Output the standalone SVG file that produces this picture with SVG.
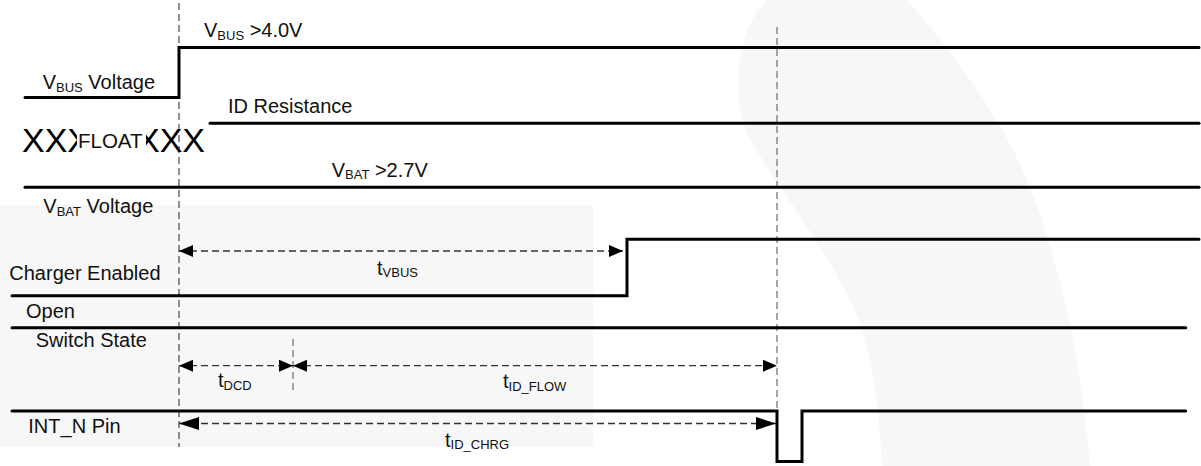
<svg xmlns="http://www.w3.org/2000/svg" width="1201" height="466" viewBox="0 0 1201 466">
  <style>
    .sig { fill: none; stroke: #000; stroke-width: 3; stroke-linecap: round; stroke-linejoin: miter; }
    .guide { fill: none; stroke: #555; stroke-width: 1.3; stroke-dasharray: 7 4; }
    .guide2 { fill: none; stroke: #777; stroke-width: 1.3; stroke-dasharray: 7 4; }
    .dim { fill: none; stroke: #333; stroke-width: 1.3; stroke-dasharray: 7 4; }
    text { font-family: "Liberation Sans", Arial, sans-serif; font-size: 20px; fill: #111; }
    .sub { font-size: 13px; }
    .xx { font-size: 34px; fill: #000; }
  </style>
  <defs>
    <marker id="arr" markerUnits="userSpaceOnUse" markerWidth="16" markerHeight="14" refX="14" refY="6" orient="auto-start-reverse">
      <path d="M0,0 L14,6 L0,12 Z" fill="#000"/>
    </marker>
    <marker id="arrL" markerUnits="userSpaceOnUse" markerWidth="22" markerHeight="14" refX="20" refY="6.5" orient="auto-start-reverse">
      <path d="M0,0 L20,6.5 L0,13 Z" fill="#000"/>
    </marker>
    <clipPath id="clipL"><rect x="0" y="120" width="77" height="40"/></clipPath>
    <clipPath id="clipR"><rect x="146" y="120" width="70" height="40"/></clipPath>
  </defs>

  <rect width="1201" height="466" fill="#fff"/>
  <g id="watermark" fill="#f7f7f7">
    <rect x="0" y="205" width="593" height="242"/>
    <path d="M767,0 L907,0 C960,60 1010,130 1035,200 C1060,270 1080,350 1090,466 L882,466 C878,380 865,330 850,300 C820,240 780,190 750,140 C730,100 735,30 767,0 Z"/>
  </g>

  <g id="connectors">
    <path class="guide" d="M179,3 V447"/>
    <path class="guide2" d="M777,27 V411"/>
    <path class="guide2" d="M293,339 V391"/>
    <path class="dim" d="M179,251 H623" marker-start="url(#arr)" marker-end="url(#arr)"/>
    <path class="dim" d="M179,365.7 H293" marker-start="url(#arr)" marker-end="url(#arr)"/>
    <path class="dim" d="M293,365.7 H777" marker-start="url(#arr)" marker-end="url(#arr)"/>
    <path class="dim" d="M179,423.5 H776" marker-start="url(#arrL)" marker-end="url(#arrL)"/>
  </g>

  <g id="vbus">
    <path class="sig" d="M25,97.5 H179 V47.5 H1199"/>
    <text x="204" y="37">V<tspan class="sub" dy="2.5">BUS</tspan><tspan dy="-2.5"> &gt;4.0V</tspan></text>
    <text x="42.7" y="89">V<tspan class="sub" dy="2.5">BUS</tspan><tspan dy="-2.5"> Voltage</tspan></text>
  </g>

  <g id="id-resistance">
    <path class="sig" d="M210,123.3 H1199"/>
    <text x="228" y="113">ID Resistance</text>
    <text class="xx" x="22" y="152" clip-path="url(#clipL)">XXX</text>
    <text class="xx" x="137" y="152" clip-path="url(#clipR)">XXX</text>
    <rect x="77" y="128" width="69" height="24" fill="#fff"/>
    <text x="78" y="148" style="font-size:20.5px">FLOAT</text>
  </g>

  <g id="vbat">
    <path class="sig" d="M25,187.3 H1199"/>
    <text x="331.7" y="176.7">V<tspan class="sub" dy="2.5">BAT</tspan><tspan dy="-2.5"> &gt;2.7V</tspan></text>
    <text x="43.3" y="213">V<tspan class="sub" dy="2.5">BAT</tspan><tspan dy="-2.5"> Voltage</tspan></text>
  </g>

  <g id="charger">
    <path class="sig" d="M12,295.7 H627 V239.3 H1199"/>
    <text x="9.3" y="279.5">Charger Enabled</text>
    <text x="377" y="275">t<tspan class="sub" dy="2">VBUS</tspan></text>
  </g>

  <g id="switch">
    <path class="sig" d="M12,327.7 H1185.7"/>
    <text x="26" y="318">Open</text>
    <text x="35.7" y="346.5">Switch State</text>
    <text x="218" y="387">t<tspan class="sub" dy="2.5">DCD</tspan></text>
    <text x="503" y="388">t<tspan class="sub" dy="2.5">ID_FLOW</tspan></text>
  </g>

  <g id="int-n">
    <path class="sig" d="M12,411 H777 V461.5 H802 V411 H1185.7"/>
    <text x="28.3" y="432.7">INT_N Pin</text>
    <text x="445" y="446.5">t<tspan class="sub" dy="2.5">ID_CHRG</tspan></text>
  </g>
</svg>
